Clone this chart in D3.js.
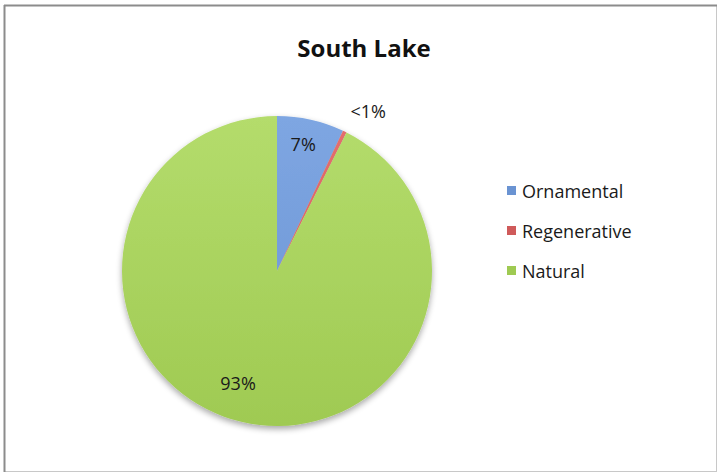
<!DOCTYPE html>
<html>
<head>
<meta charset="utf-8">
<script src="https://cdn.jsdelivr.net/npm/d3@7"></script>
<style>
  html, body { margin: 0; padding: 0; background: #fff; }
  svg { display: block; font-family: "Open Sans", "Noto Sans", sans-serif; }
</style>
</head>
<body>
<svg id="chart" width="718" height="475"></svg>
<script>
// Land-use shares for South Lake
const categories = ["Ornamental", "Regenerative", "Natural"];
const values = [7, 0.4, 92.6];
const valueLabels = ["7%", "<1%", "93%"];
const colors = ["#7ea6e2", "#e46f6f", "#b4dc6c"];
const darkColors = ["#6a93d2", "#cf5a5a", "#9fca52"];

const svg = d3.select("#chart");

// frame
svg.append("rect").attr("x", 4.5).attr("y", 5.5).attr("width", 712).attr("height", 466)
  .attr("fill", "#fff").attr("stroke", "#c8c8c8").attr("stroke-width", 1);
svg.append("line").attr("x1", 4.5).attr("x2", 4.5).attr("y1", 5).attr("y2", 472)
  .attr("stroke", "#8c8c8c").attr("stroke-width", 2);
svg.append("line").attr("x1", 4).attr("x2", 717).attr("y1", 5.5).attr("y2", 5.5)
  .attr("stroke", "#8c8c8c").attr("stroke-width", 2);

// title
svg.append("text").attr("x", 364).attr("y", 57).attr("text-anchor", "middle")
  .attr("font-size", 24).attr("font-weight", "bold").attr("fill", "#111")
  .text("South Lake");

const defs = svg.append("defs");
const shadow = defs.append("filter").attr("id", "shadow")
  .attr("x", "-20%").attr("y", "-20%").attr("width", "140%").attr("height", "150%");
shadow.append("feGaussianBlur").attr("in", "SourceAlpha").attr("stdDeviation", 3).attr("result", "b");
shadow.append("feOffset").attr("in", "b").attr("dx", 0).attr("dy", 3).attr("result", "o");
shadow.append("feComponentTransfer").attr("in", "o").attr("result", "s")
  .append("feFuncA").attr("type", "linear").attr("slope", 0.35);
const merge = shadow.append("feMerge");
merge.append("feMergeNode").attr("in", "s");
merge.append("feMergeNode").attr("in", "SourceGraphic");

const cx = 277, cy = 271, r = 155;

categories.forEach((c, i) => {
  const g = defs.append("linearGradient").attr("id", "grad" + i)
    .attr("gradientUnits", "userSpaceOnUse")
    .attr("x1", 0).attr("y1", -r).attr("x2", 0).attr("y2", r);
  g.append("stop").attr("offset", "0%").attr("stop-color", colors[i]);
  g.append("stop").attr("offset", "100%").attr("stop-color", darkColors[i]);
});

const pie = d3.pie().sort(null).value(d => d.value);
const arcs = pie(categories.map((c, i) => ({ name: c, value: values[i], i })));
const arc = d3.arc().innerRadius(0).outerRadius(r);

const pg = svg.append("g").attr("transform", `translate(${cx},${cy})`)
  .attr("filter", "url(#shadow)");
pg.selectAll("path").data(arcs).join("path")
  .attr("d", arc)
  .attr("fill", d => `url(#grad${d.data.i})`);

// slice labels: radius fraction and angular nudge (radians) per slice
const labelPlace = [
  { k: 0.83, da: -0.015, dx: 0 },
  { k: 1.14, da: 0.0, dx: 14 },
  { k: 0.77, da: 0.1, dx: 0 }
];
const lg = svg.append("g").attr("transform", `translate(${cx},${cy})`);
lg.selectAll("text").data(arcs).join("text")
  .attr("transform", d => {
    const p = labelPlace[d.data.i];
    const a = (d.startAngle + d.endAngle) / 2 + p.da;
    const rr = r * p.k;
    return `translate(${Math.sin(a) * rr + p.dx},${-Math.cos(a) * rr})`;
  })
  .attr("text-anchor", "middle").attr("dy", "0.35em")
  .attr("font-size", 18).attr("fill", "#1a1a1a")
  .text(d => valueLabels[d.data.i]);

// legend
const legY = d3.scalePoint().domain(categories).range([192, 272]);
const leg = svg.append("g");
categories.forEach((c, i) => {
  leg.append("rect").attr("x", 507).attr("y", legY(c) - 6).attr("width", 9).attr("height", 9)
    .attr("fill", darkColors[i]);
  leg.append("text").attr("x", 522).attr("y", legY(c)).attr("dy", "0.35em")
    .attr("font-size", 18).attr("fill", "#1a1a1a").text(c);
});
</script>
</body>
</html>
